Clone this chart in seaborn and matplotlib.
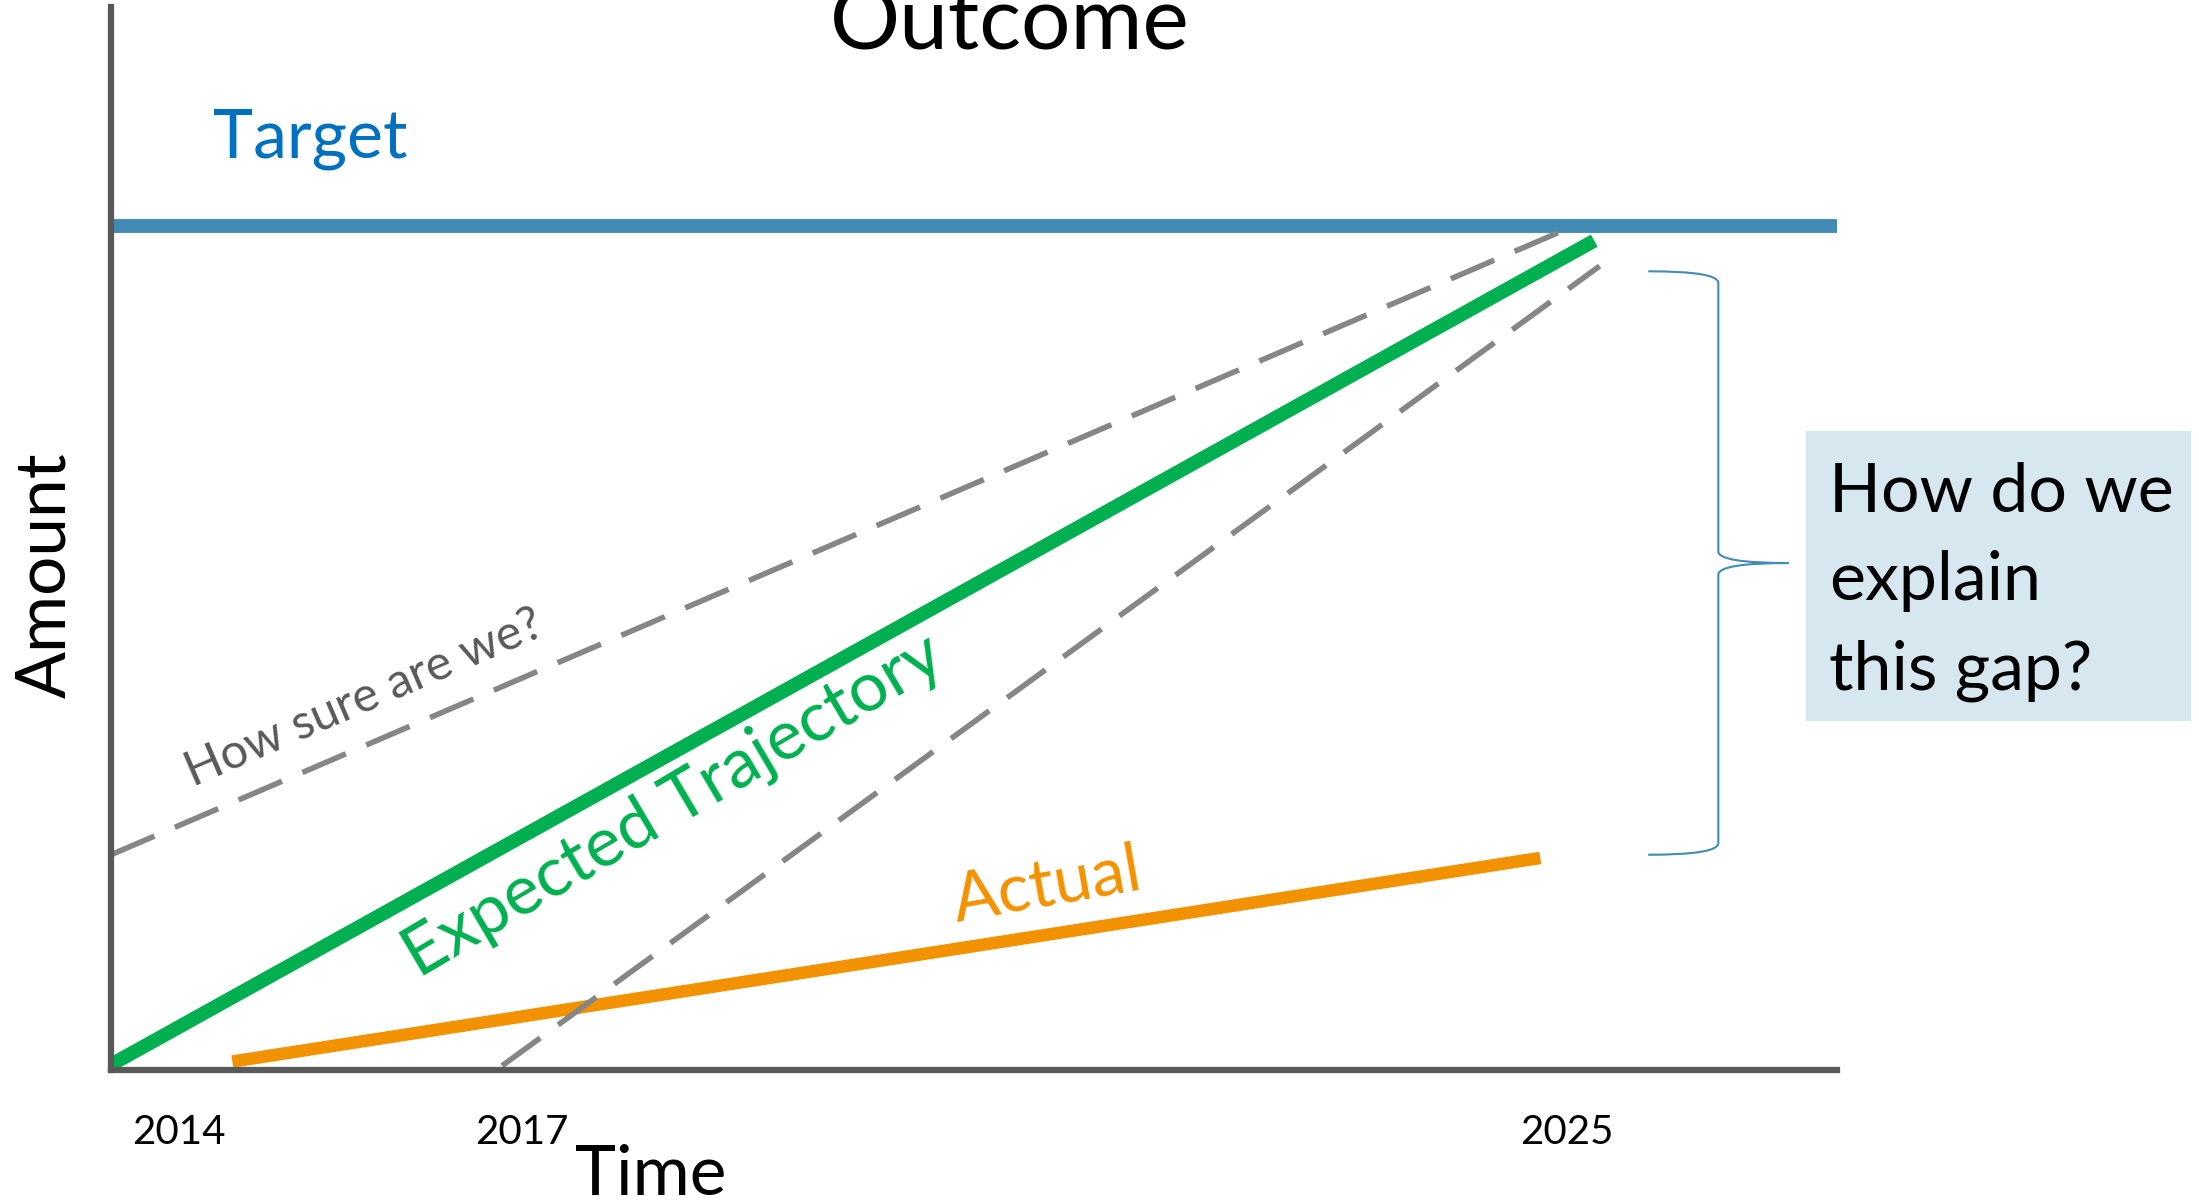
import matplotlib
matplotlib.use('Agg')
import matplotlib.pyplot as plt
import seaborn as sns
from matplotlib.path import Path
from matplotlib.patches import PathPatch, Rectangle

# data (years on x, amount on y)
target_level = 80
target_x = [2014, 2026.8]
expected_x = [2014, 2025]
expected_y = [0.5, 78.6]
upper_x = [2014, 2024.83]
upper_y = [20.4, 79.9]
lower_x = [2016.9, 2025.04]
lower_y = [0.4, 76.2]
actual_x = [2014.9, 2024.6]
actual_y = [0.8, 20.1]
tick_pos = [2014.5, 2017.05, 2024.8]
tick_labels = ['2014', '2017', '2025']
gap_top, gap_bottom = 75.7, 20.4

W, H = 2199, 1203

sns.set_theme(style='white')
plt.rcParams['font.family'] = ['Lato', 'DejaVu Sans']
plt.rcParams['text.color'] = 'black'
plt.rcParams['xtick.color'] = 'black'

fig = plt.figure(figsize=(W / 100, H / 100), dpi=100)
ax = fig.add_axes([111 / W, 133 / H, (1837 - 111) / W, (1070 - 7) / H])

sns.lineplot(x=target_x, y=[target_level] * 2, color='#428bb5', linewidth=10,
             solid_capstyle='butt', ax=ax)
sns.lineplot(x=expected_x, y=expected_y, color='#00b050', linewidth=10,
             solid_capstyle='butt', ax=ax)
sns.lineplot(x=actual_x, y=actual_y, color='#f39200', linewidth=9,
             solid_capstyle='butt', ax=ax)
for xs, ys in [(upper_x, upper_y), (lower_x, lower_y)]:
    sns.lineplot(x=xs, y=ys, color='#868686', linewidth=4, ax=ax)
    ax.lines[-1].set_dashes((8.5, 4))
    ax.lines[-1].set_dash_capstyle('butt')

ax.set_xlim(2014, 2026.8)
ax.set_ylim(0, 100.75)
ax.set_xticks(tick_pos)
ax.set_xticklabels(tick_labels, fontsize=29)
ax.tick_params(axis='x', length=0, pad=32)
ax.set_yticks([])
ax.set_xlabel('')
for s in ['top', 'right']:
    ax.spines[s].set_visible(False)
for s in ['left', 'bottom']:
    ax.spines[s].set_color('#595959')
    ax.spines[s].set_linewidth(4.5)

# inline labels
ax.text(2014.76, 86.5, 'Target', color='#0070c0', fontsize=49, va='baseline')
ax.text(2015.88, 35.3, 'How sure are we?', color='#595959', fontsize=35,
        rotation=23.3, rotation_mode='anchor', ha='center', va='center')
ax.text(2018.17, 25.0, 'Expected Trajectory', color='#00b050', fontsize=50,
        rotation=30.5, rotation_mode='anchor', ha='center', va='center')
ax.text(2020.94, 17.4, 'Actual', color='#f39200', fontsize=49,
        rotation=10, rotation_mode='anchor', ha='center', va='center')

# brace marking the gap
bx0, bx1, bx2 = 2025.4, 2025.92, 2026.44
ym = (gap_top + gap_bottom) / 2
r = 1.1
verts = [(bx0, gap_top), (bx1, gap_top), (bx1, gap_top - r),
         (bx1, ym + r), (bx1, ym), (bx2, ym),
         (bx2, ym), (bx1, ym), (bx1, ym - r),
         (bx1, gap_bottom + r), (bx1, gap_bottom), (bx0, gap_bottom)]
codes = [Path.MOVETO, Path.CURVE3, Path.CURVE3,
         Path.LINETO, Path.CURVE3, Path.CURVE3,
         Path.MOVETO, Path.CURVE3, Path.CURVE3,
         Path.LINETO, Path.CURVE3, Path.CURVE3]
ax.add_patch(PathPatch(Path(verts, codes), facecolor='none', edgecolor='#428bb5',
                       linewidth=1.5, clip_on=False))

# titles (Outcome is cut by the top edge, as in the slide)
fig.text(1010 / W, 1 - 50 / H, 'Outcome', fontsize=63, ha='center', va='baseline')
fig.text(651 / W, 1 - 1195 / H, 'Time', fontsize=50, ha='center', va='baseline')
fig.text(46 / W, 1 - 575 / H, 'Amount', fontsize=50, rotation=90,
         ha='center', va='center')

# question box
fig.patches.append(Rectangle((1806 / W, 1 - 721 / H), 385 / W, 290 / H,
                             transform=fig.transFigure, facecolor='#d7e7f0',
                             edgecolor='none'))
for line, yb in zip(['How do we', 'explain', 'this gap?'], [512, 600, 690]):
    fig.text(1829 / W, 1 - yb / H, line, fontsize=49, va='baseline')

fig.savefig('out.png', dpi=100)
